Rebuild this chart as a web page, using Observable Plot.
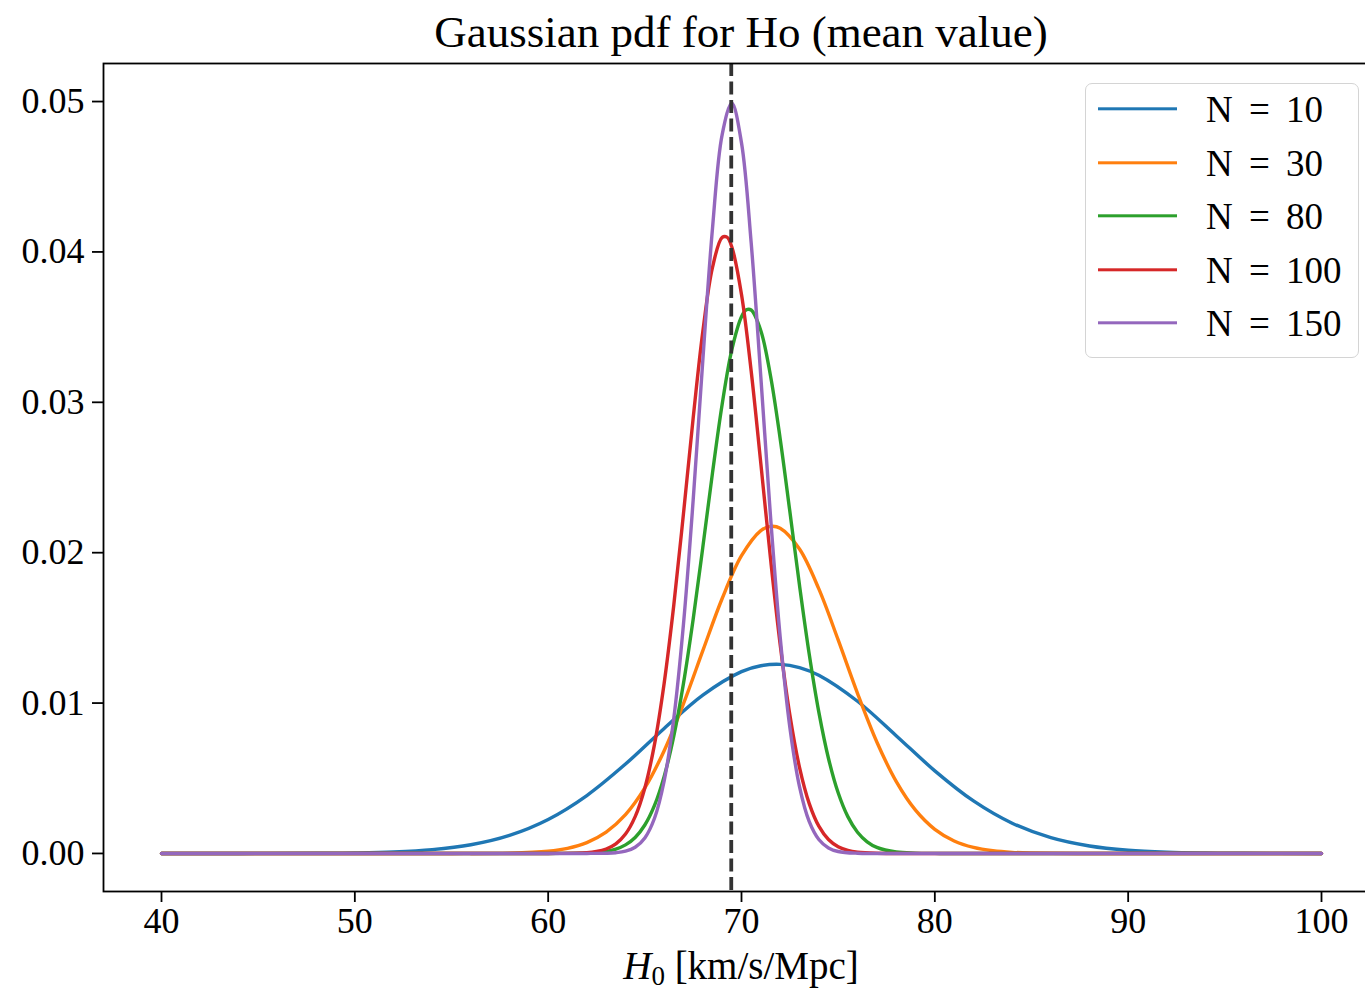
<!DOCTYPE html>
<html>
<head>
<meta charset="utf-8">
<script src="https://cdn.jsdelivr.net/npm/d3@7"></script>
<script src="https://cdn.jsdelivr.net/npm/@observablehq/plot@0.6"></script>
<style>
html, body { margin: 0; padding: 0; background: #fff; overflow: hidden; width: 1365px; height: 991px; }
#wrap { position: relative; width: 1365px; height: 991px; font-family: "Liberation Serif", serif; color: #000; overflow: hidden; }
#title { position: absolute; left: 0; top: 10px; width: 1482px; text-align: center; font-size: 45px; line-height: 45px; white-space: nowrap; }
#chart { position: absolute; left: 0; top: 62px; width: 1400px; height: 929px; }
#chart svg { max-width: none !important; width: 1400px; height: 929px; display: block; }
#xlabel { position: absolute; left: 0; top: 946px; width: 1482px; text-align: center; font-size: 39px; line-height: 39px; white-space: nowrap; }
#xlabel sub { font-size: 27px; vertical-align: -6px; line-height: 0; }
#legend { position: absolute; left: 1085px; top: 83px; width: 274px; height: 275px; box-sizing: border-box; border: 1.5px solid #d4d4d4; border-radius: 7px; background: rgba(255,255,255,0.85); }
.lrow { position: absolute; left: 0; width: 100%; height: 0; }
.lsw { position: absolute; left: 12px; width: 79px; height: 3.4px; transform: translateY(-50%); }
.ltx { position: absolute; left: 120px; font-size: 37px; line-height: 37px; transform: translateY(-50%); white-space: nowrap; word-spacing: 7px; }
</style>
</head>
<body>
<div id="wrap">
  <div id="title">Gaussian pdf for Ho (mean value)</div>
  <div id="chart"></div>
  <div id="xlabel"><i>H</i><sub>0</sub> [km/s/Mpc]</div>
  <div id="legend"></div>
</div>
<script>
// ---- Data ----
const seriesLabels = ["N = 10", "N = 30", "N = 80", "N = 100", "N = 150"];
const seriesColors = ["#1f77b4", "#ff7f0e", "#2ca02c", "#d62728", "#9467bd"];

const xN10 = [40,44,48,50,52,54,56,58,60,62,64,66,68,70,71,72,73,74,76,78,80,82,84,86,88,90,92,94,96,100];
const yN10 = [0,0.000001,0.000012,0.000036,0.0001,0.000254,0.000581,0.001204,0.002262,0.003852,0.005944,0.008312,0.01053,0.01209,0.01248,0.012574,0.01236,0.01185,0.01012,0.007834,0.005494,0.003491,0.00201,0.001048,0.000496,0.000212,0.000082,0.000029,0.000009,0.000001];

const xN30 = [40,50,55,58,60,61,62,63,64,65,66,67,68,69,70,71,71.5,72,73,74,75,76,77,78,79,80,81,82,83,84,86,88,90,100];
const yN30 = [0,0,0.000001,0.000024,0.000151,0.000343,0.000724,0.001417,0.002579,0.004356,0.006835,0.009962,0.013485,0.016953,0.019797,0.021473,0.021752,0.021632,0.020241,0.017591,0.014201,0.010647,0.007414,0.004794,0.002881,0.001607,0.000833,0.000401,0.000179,0.000074,0.00001,0.000001,0,0];

const xN80 = [40,55,60,62,63,63.5,64,64.5,65,65.5,66,66.5,67,67.5,68,68.5,69,69.5,70,70.25,70.5,71,71.5,72,72.5,73,73.5,74,74.5,75,75.5,76,76.5,77,78,79,80,82,100];
const yN80 = [0,0,0,0.000028,0.000139,0.000289,0.000569,0.001063,0.001891,0.003193,0.005125,0.007816,0.011317,0.015577,0.02037,0.025307,0.029872,0.0335,0.035697,0.03615,0.036137,0.03476,0.031766,0.027581,0.022752,0.017832,0.013278,0.009394,0.006313,0.004033,0.002448,0.00141,0.000773,0.000402,0.000093,0.000018,0.000003,0,0];

const xN100 = [40,55,60,62,62.5,63,63.5,64,64.5,65,65.5,66,66.5,67,67.5,68,68.5,69,69.25,69.5,70,70.5,71,71.5,72,72.5,73,73.5,74,74.5,75,75.5,76,77,78,80,100];
const yN100 = [0,0,0,0.000051,0.000127,0.000294,0.000636,0.00129,0.002449,0.004357,0.007255,0.011324,0.016535,0.022612,0.028951,0.034712,0.03897,0.04097,0.040982,0.04033,0.037172,0.03208,0.025925,0.019619,0.013899,0.009222,0.005728,0.003333,0.001814,0.000926,0.000442,0.000198,0.000083,0.000012,0.000001,0,0];

const xN150 = [40,55,60,62,63,63.5,64,64.5,65,65.5,66,66.5,67,67.5,68,68.5,69,69.5,70,70.5,71,71.5,72,72.5,73,73.5,74,74.5,75,76,77,80,100];
const yN150 = [0,0,0,0.000001,0.000015,0.000049,0.00015,0.000413,0.001033,0.002342,0.00482,0.009007,0.015269,0.023493,0.032809,0.041572,0.047804,0.049892,0.04725,0.040614,0.031682,0.022425,0.014406,0.008398,0.004446,0.002134,0.00093,0.000368,0.000132,0.000013,0,0,0];

const meanH0 = 69.47;
const xTicks = [40, 50, 60, 70, 80, 90, 100];
const yTicks = [0, 0.01, 0.02, 0.03, 0.04, 0.05];

// ---- Build table ----
const xs = [xN10, xN30, xN80, xN100, xN150];
const ys = [yN10, yN30, yN80, yN100, yN150];
const rows = [];
xs.forEach((xarr, i) => xarr.forEach((x, j) => rows.push({H0: x, p: ys[i][j], N: seriesLabels[i]})));

const plot = Plot.plot({
  width: 1400,
  height: 929,
  marginTop: 1,
  marginBottom: 100,
  marginLeft: 103,
  marginRight: 21,
  style: {fontFamily: "'Liberation Serif', serif", fontSize: "36px", background: "transparent", color: "#000", maxWidth: "none"},
  x: {domain: [37, 103]},
  y: {domain: [-0.00253, 0.05253]},
  color: {domain: seriesLabels, range: seriesColors},
  marks: [
    Plot.axisX({ticks: xTicks, tickSize: 11, tickPadding: 5, label: null, strokeWidth: 1.8, fontSize: 36, tickFormat: d => String(d)}),
    Plot.axisY({ticks: yTicks, tickSize: 11, tickPadding: 8, label: null, strokeWidth: 1.8, fontSize: 36, tickFormat: d3.format(".2f")}),
    Plot.line(rows, {x: "H0", y: "p", z: "N", stroke: "N", strokeWidth: 3.4, curve: "catmull-rom"}),
    Plot.ruleX([meanH0], {stroke: "#333", strokeWidth: 3.8, strokeDasharray: "13,5.5"}),
    Plot.frame({stroke: "#000", strokeWidth: 1.8})
  ]
});
document.getElementById("chart").appendChild(plot);

// ---- Legend ----
const legend = document.getElementById("legend");
const rowCenters = [25, 78.5, 132, 185.5, 239];
seriesLabels.forEach((lab, i) => {
  const r = document.createElement("div");
  r.className = "lrow";
  r.style.top = rowCenters[i] + "px";
  const sw = document.createElement("div");
  sw.className = "lsw";
  sw.style.background = seriesColors[i];
  const tx = document.createElement("div");
  tx.className = "ltx";
  tx.textContent = lab;
  r.appendChild(sw);
  r.appendChild(tx);
  legend.appendChild(r);
});
</script>
</body>
</html>
